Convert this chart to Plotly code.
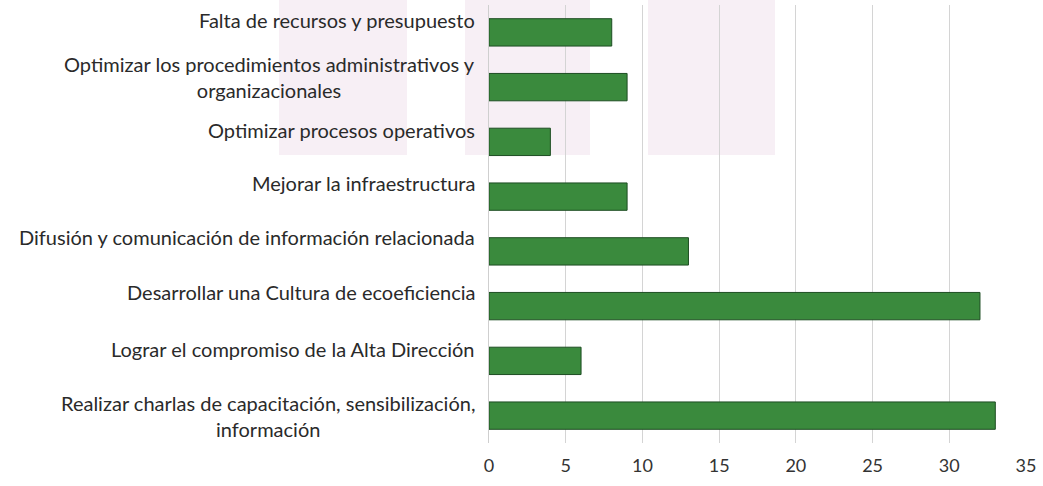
import plotly.graph_objects as go

categories = [
    "Falta de recursos y presupuesto",
    "Optimizar los procedimientos administrativos y<br>organizacionales",
    "Optimizar procesos operativos",
    "Mejorar la infraestructura",
    "Difusión y comunicación de información relacionada",
    "Desarrollar una Cultura de ecoeficiencia",
    "Lograr el compromiso de la Alta Dirección",
    "Realizar charlas de capacitación, sensibilización,<br>información",
]
values = [8, 9, 4, 9, 13, 32, 6, 33]
x_ticks = [0, 5, 10, 15, 20, 25, 30, 35]

# label vertical offsets (px) to mimic the original layout
label_shift = [12, 10, 12, 14, 14, 14, 12, 0]

fig = go.Figure()
fig.add_trace(go.Bar(
    y=categories, x=values, orientation="h",
    marker=dict(color="#3a8a3d", line=dict(color="#1d4d22", width=1)),
    showlegend=False, hoverinfo="x+y",
))

L, R, T, B = 489, 1026, 5, 43
PW, PH = R - L, (486 - B) - T

# faint background blocks from the scanned page
shapes = []
for x0, x1 in [(279, 407), (465, 590), (648, 775)]:
    shapes.append(dict(type="rect", xref="paper", yref="paper",
                       x0=(x0 - L) / PW, x1=(x1 - L) / PW,
                       y0=1 - (155 - T) / PH, y1=1 + T / PH,
                       fillcolor="#f7eff5", line=dict(width=0), layer="below"))
fig.update_layout(shapes=shapes)

annotations = []
for c, s in zip(categories, label_shift):
    annotations.append(dict(text=c, x=0, y=c, xref="x", yref="y", xanchor="right", yanchor="middle",
                            xshift=-12, yshift=s, align="center", showarrow=False,
                            font=dict(family="Lato", size=20, color="#2a2a2a")))
fig.update_layout(annotations=annotations)

fig.update_layout(
    width=1043, height=486,
    margin=dict(l=L, r=1043 - R, t=T, b=B),
    paper_bgcolor="white", plot_bgcolor="rgba(0,0,0,0)",
    bargap=0.5,
    xaxis=dict(range=[0, 35], tickvals=x_ticks, showgrid=True, gridcolor="#d4d4d4", gridwidth=1,
               zeroline=False, showline=False, ticks="", ticklabelstandoff=10,
               tickfont=dict(family="Lato", size=18, color="#333333")),
    yaxis=dict(categoryorder="array", categoryarray=categories, autorange="reversed",
               showticklabels=False, showgrid=False, zeroline=False,
               showline=True, linecolor="#cfcfcf", linewidth=1),
)

fig.write_html("out.html", config={"displayModeBar": False},
               post_script="document.body.style.margin='0';")
